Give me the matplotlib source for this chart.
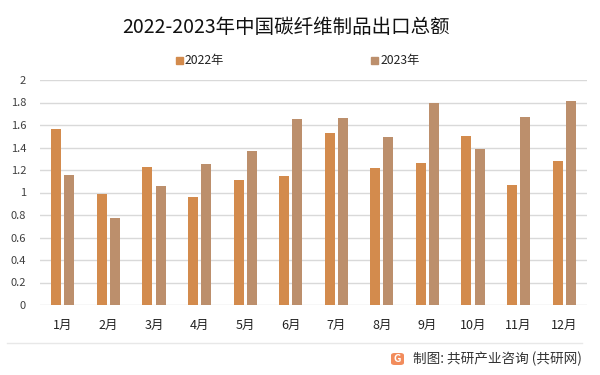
import matplotlib
matplotlib.use("Agg")
import matplotlib.pyplot as plt
from matplotlib.patches import Rectangle, FancyBboxPatch
import numpy as np

plt.rcParams['font.family'] = ['Noto Sans CJK SC', 'DejaVu Sans']

months = ["1月", "2月", "3月", "4月", "5月", "6月", "7月", "8月", "9月", "10月", "11月", "12月"]
v2022 = [1.565, 0.99, 1.23, 0.96, 1.11, 1.15, 1.53, 1.22, 1.26, 1.50, 1.07, 1.28]
v2023 = [1.16, 0.77, 1.06, 1.25, 1.37, 1.65, 1.66, 1.49, 1.80, 1.39, 1.67, 1.81]
series_names = ["2022年", "2023年"]
yticks = [0, 0.2, 0.4, 0.6, 0.8, 1, 1.2, 1.4, 1.6, 1.8, 2]
ytick_labels = ["0", "0.2", "0.4", "0.6", "0.8", "1", "1.2", "1.4", "1.6", "1.8", "2"]

c1 = "#D38B4D"
c2 = "#BC8F6C"

fig = plt.figure(figsize=(6, 3.75), dpi=100)
ax = fig.add_axes([40/600, 1-305/375, 547/600, 225/375])

x = np.arange(len(months))
w = 0.22
ax.bar(x - 0.145, v2022, width=w, color=c1, label=series_names[0], zorder=3)
ax.bar(x + 0.145, v2023, width=w, color=c2, label=series_names[1], zorder=3)

ax.set_xlim(-0.5, len(months) - 0.5)
ax.set_ylim(0, 2)
ax.set_yticks(yticks)
ax.set_yticklabels(ytick_labels, fontsize=8, color="#404040")
ax.set_xticks(x)
ax.set_xticklabels(months, fontsize=9, color="#222222")
ax.tick_params(axis='both', length=0)
ax.tick_params(axis='y', pad=10)
ax.tick_params(axis='x', pad=10)
ax.grid(axis='y', color="#D9D9D9", linewidth=1, zorder=0)
for s in ax.spines.values():
    s.set_visible(False)

fig.text(286.5/600, 1-27.5/375, "2022-2023年中国碳纤维制品出口总额", ha='center', va='center',
         fontsize=14, color="#111111")

# legend
fig.patches.append(Rectangle((176/600, 1-63.5/375), 6.5/600, 6.5/375, transform=fig.transFigure, color=c1))
fig.text(185/600, 1-60.5/375, series_names[0], va='center', ha='left', fontsize=8.8, color="#222222")
fig.patches.append(Rectangle((371/600, 1-63.5/375), 6.5/600, 6.5/375, transform=fig.transFigure, color=c2))
fig.text(381/600, 1-60.5/375, series_names[1], va='center', ha='left', fontsize=8.8, color="#222222")

# footer
fig.add_artist(plt.Line2D([7/600, 582/600], [1-343/375, 1-343/375], transform=fig.transFigure,
                          color="#E8E8E8", linewidth=1))
fig.patches.append(FancyBboxPatch((391/600, 1-365/375), 13/600, 12/375,
                                  boxstyle="round,pad=0,rounding_size=0.006",
                                  transform=fig.transFigure, color="#F28C5C", ec="none"))
fig.text(397.5/600, 1-359/375, "G", ha='center', va='center', fontsize=7.5, color="white", fontweight='bold')
fig.text(413/600, 1-359/375, "制图: 共研产业咨询 (共研网)", ha='left', va='center', fontsize=9.8, color="#333333")

fig.savefig("out.png", dpi=100)
